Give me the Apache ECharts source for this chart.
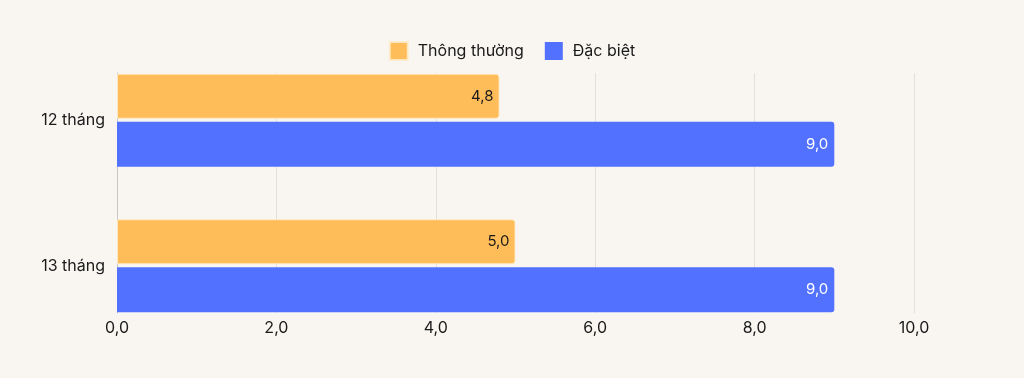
<!DOCTYPE html>
<html><head><meta charset="utf-8">
<script src="https://cdn.jsdelivr.net/npm/echarts@6/dist/echarts.min.js"></script>
<style>html,body{margin:0;padding:0;background:#f9f6f2}#c{width:1024px;height:378px}</style>
</head><body><div id="c"></div>
<script>
const categories = ['12 tháng', '13 tháng'];
const seriesNames = ['Thông thường', 'Đặc biệt'];
const normalValues = [4.8, 5.0];
const specialValues = [9.0, 9.0];
const xTicks = [0, 2, 4, 6, 8, 10];
const colors = ['#ffbd59', '#5271ff'];

const fmt = v => v.toFixed(1).replace('.', ',');
const font = 'Inter, "Noto Sans", sans-serif';

const chart = echarts.init(document.getElementById('c'), null, {renderer: 'canvas'});
chart.setOption({
  backgroundColor: '#f9f6f2',
  animation: false,
  textStyle: {fontFamily: font},
  legend: {
    top: 36, left: 'center', itemWidth: 18, itemHeight: 18, itemGap: 21,
    icon: 'rect',
    textStyle: {fontSize: 16, color: '#1a1a1a', fontFamily: font, padding: [0, 0, 0, 5]},
    data: seriesNames
  },
  grid: [
    {left: 117, right: 110, top: 47.5, height: 291, containLabel: false},
    {left: 117, right: 110, top: 73, bottom: 65, containLabel: false}
  ],
  xAxis: [
    {gridIndex: 0, type: 'value', min: xTicks[0], max: xTicks[xTicks.length - 1], interval: 2,
     axisLabel: {show: false}, splitLine: {show: false}, axisLine: {show: false}, axisTick: {show: false}},
    {gridIndex: 1, type: 'value', min: xTicks[0], max: xTicks[xTicks.length - 1], interval: 2,
     axisLabel: {formatter: v => fmt(v), fontSize: 16, color: '#1a1a1a', margin: 7, fontFamily: font},
     splitLine: {show: true, lineStyle: {color: '#e3e0db', width: 1}},
     axisLine: {show: false}, axisTick: {show: false}}
  ],
  yAxis: [
    {gridIndex: 0, type: 'category', inverse: true, data: categories,
     axisLine: {show: false}, axisTick: {show: false},
     axisLabel: {fontSize: 16, color: '#1a1a1a', margin: 12, fontFamily: font}},
    {gridIndex: 1, type: 'value', min: 0, max: 1,
     axisLine: {show: true, lineStyle: {color: '#c8c6c2', width: 1}},
     axisTick: {show: false}, axisLabel: {show: false}, splitLine: {show: false}}
  ],
  series: [
    {name: seriesNames[0], type: 'bar', xAxisIndex: 0, yAxisIndex: 0, data: normalValues,
     barWidth: 45, barGap: '6.67%',
     itemStyle: {color: colors[0], borderRadius: [0, 3, 3, 0], borderColor: 'rgba(255,235,200,0.9)', borderWidth: 1},
     label: {show: true, position: 'insideRight', distance: 6, formatter: p => fmt(p.value),
             fontSize: 15, color: '#1a1a1a', fontFamily: font}},
    {name: seriesNames[1], type: 'bar', xAxisIndex: 0, yAxisIndex: 0, data: specialValues,
     barWidth: 45, barGap: '6.67%',
     itemStyle: {color: colors[1], borderRadius: [0, 3, 3, 0]},
     label: {show: true, position: 'insideRight', distance: 6, formatter: p => fmt(p.value),
             fontSize: 15, color: '#ffffff', fontFamily: font}}
  ]
});
</script></body></html>
